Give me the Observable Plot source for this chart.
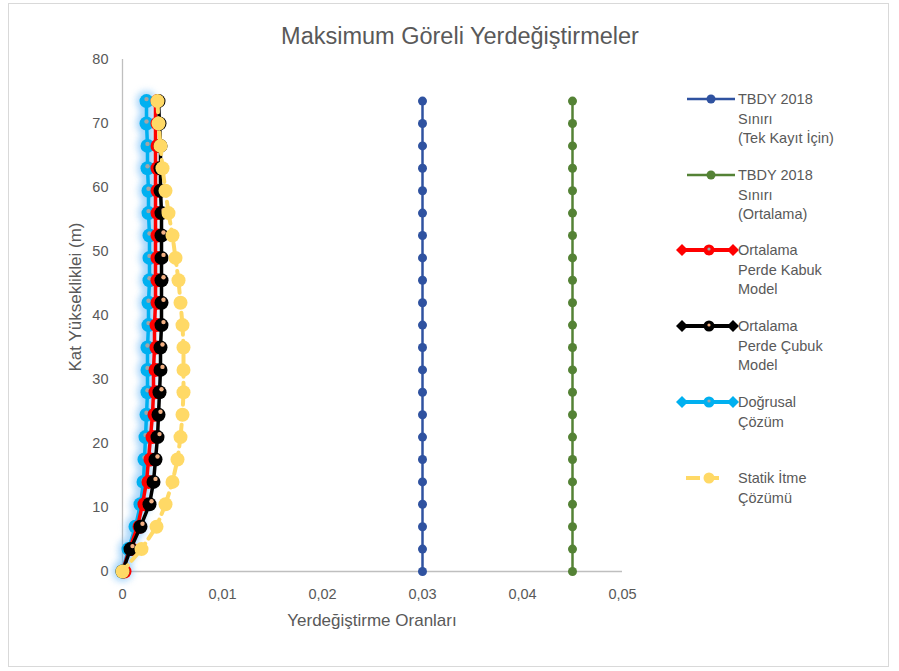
<!DOCTYPE html>
<html>
<head>
<meta charset="utf-8">
<script src="https://cdn.jsdelivr.net/npm/d3@7"></script>
<script src="https://cdn.jsdelivr.net/npm/@observablehq/plot@0.6"></script>
<style>
  html, body { margin: 0; padding: 0; background: #fff; }
  #chart { position: relative; width: 899px; height: 671px; }
</style>
</head>
<body>
<div id="chart"></div>
<script>
// ---- Data ----
const heights = [0, 3.5, 7, 10.5, 14, 17.5, 21, 24.5, 28, 31.5, 35, 38.5, 42, 45.5, 49, 52.5, 56, 59.5, 63, 66.5, 70, 73.5];
const tbdyTekKayit = [0.03, 0.03, 0.03, 0.03, 0.03, 0.03, 0.03, 0.03, 0.03, 0.03, 0.03, 0.03, 0.03, 0.03, 0.03, 0.03, 0.03, 0.03, 0.03, 0.03, 0.03, 0.03];
const tbdyOrtalama = [0.045, 0.045, 0.045, 0.045, 0.045, 0.045, 0.045, 0.045, 0.045, 0.045, 0.045, 0.045, 0.045, 0.045, 0.045, 0.045, 0.045, 0.045, 0.045, 0.045, 0.045, 0.045];
const kabukModel = [0, 0.0007, 0.0015, 0.0020, 0.0024, 0.0026, 0.0028, 0.0030, 0.0031, 0.0031, 0.0032, 0.0032, 0.0033, 0.0033, 0.0033, 0.0033, 0.0033, 0.0033, 0.0033, 0.0033, 0.0033, 0.0033];
const cubukModel = [0, 0.0008, 0.0018, 0.0027, 0.0031, 0.0033, 0.0035, 0.0036, 0.0037, 0.0038, 0.0038, 0.0039, 0.0039, 0.0039, 0.0039, 0.0039, 0.0039, 0.0038, 0.0038, 0.0038, 0.0037, 0.0036];
const dogrusal = [0, 0.0006, 0.0013, 0.0018, 0.0021, 0.0022, 0.0023, 0.0024, 0.0025, 0.0025, 0.0025, 0.0026, 0.0026, 0.0027, 0.0027, 0.0027, 0.0026, 0.0026, 0.0025, 0.0025, 0.0024, 0.0024];
const statikItme = [0, 0.0019, 0.0034, 0.0043, 0.0050, 0.0055, 0.0058, 0.0060, 0.0061, 0.0061, 0.0061, 0.0060, 0.0058, 0.0056, 0.0053, 0.0050, 0.0046, 0.0043, 0.0040, 0.0038, 0.0036, 0.0035];

const xTicks = [0, 0.01, 0.02, 0.03, 0.04, 0.05];
const yTicks = [0, 10, 20, 30, 40, 50, 60, 70, 80];

const seriesNames = ["TBDY 2018\nSınırı\n(Tek Kayıt İçin)", "TBDY 2018\nSınırı\n(Ortalama)", "Ortalama\nPerde Kabuk\nModel", "Ortalama\nPerde Çubuk\nModel", "Doğrusal\nÇözüm", "Statik İtme\nÇözümü"];
const title = "Maksimum Göreli Yerdeğiştirmeler";
const xTitle = "Yerdeğiştirme Oranları";
const yTitle = "Kat Yüksekliklei (m)";

const colors = {tek: "#2f52a0", ort: "#548235", kabuk: "#ff0000", cubuk: "#000000", dog: "#00b0f0", statik: "#ffd966"};

const tbl = arr => heights.map((h, i) => ({h, x: arr[i]}));
const dTek = tbl(tbdyTekKayit), dOrt = tbl(tbdyOrtalama), dKab = tbl(kabukModel),
      dCub = tbl(cubukModel), dDog = tbl(dogrusal), dSta = tbl(statikItme);

const fmt = d => d === 0 ? "0" : d.toFixed(2).replace(".", ",");

const plot = Plot.plot({
  width: 899,
  height: 671,
  marginLeft: 122,
  marginRight: 277,
  marginTop: 59,
  marginBottom: 100,
  style: {fontFamily: "Liberation Sans, Arial, sans-serif", fontSize: "14.5px", color: "#595959", background: "#fff"},
  x: {domain: [0, 0.05], ticks: xTicks, tickFormat: fmt, tickSize: 0, tickPadding: 17, label: null},
  y: {domain: [0, 80], ticks: yTicks, tickSize: 0, tickPadding: 14, label: null},
  marks: [
    Plot.ruleY([0], {stroke: "#bfbfbf", strokeWidth: 1.3}),
    Plot.ruleX([0], {stroke: "#bfbfbf", strokeWidth: 1.3}),
    // TBDY limits
    Plot.line(dTek, {x: "x", y: "h", stroke: colors.tek, strokeWidth: 2.5}),
    Plot.dot(dTek, {x: "x", y: "h", r: 4.5, fill: colors.tek}),
    Plot.line(dOrt, {x: "x", y: "h", stroke: colors.ort, strokeWidth: 2.5}),
    Plot.dot(dOrt, {x: "x", y: "h", r: 4.5, fill: colors.ort}),
    // Dogrusal glow
    Plot.line(dDog, {x: "x", y: "h", stroke: "#5fb4f5", strokeWidth: 14, strokeOpacity: 0.35, imageFilter: "blur(3px)"}),
    Plot.dot(dDog, {x: "x", y: "h", r: 11, fill: "#5fb4f5", fillOpacity: 0.35, imageFilter: "blur(3px)"}),
    Plot.line(dDog, {x: "x", y: "h", stroke: colors.dog, strokeWidth: 3.5}),
    Plot.dot(dDog, {x: "x", y: "h", r: 7, fill: colors.dog}),
    Plot.dot(dDog, {x: "x", y: "h", r: 2.2, fill: "#a5a5a5", dy: -2}),
    // Kabuk
    Plot.line(dKab, {x: "x", y: "h", stroke: colors.kabuk, strokeWidth: 3.5}),
    Plot.dot(dKab, {x: "x", y: "h", r: 7, fill: colors.kabuk, dx: 2}),
    // Cubuk
    Plot.line(dCub, {x: "x", y: "h", stroke: colors.cubuk, strokeWidth: 3.5}),
    Plot.dot(dCub, {x: "x", y: "h", r: 7, fill: colors.cubuk}),
    Plot.dot(dCub, {x: "x", y: "h", r: 2.2, fill: "#f4b183", dx: 2, dy: -3}),
    // Statik
    Plot.line(dSta, {x: "x", y: "h", stroke: colors.statik, strokeWidth: 4, strokeDasharray: "8,6"}),
    Plot.dot(dSta, {x: "x", y: "h", r: 7, fill: colors.statik})
  ]
});

document.getElementById("chart").appendChild(plot);
const svg = d3.select(plot);

// frame
svg.insert("rect", ":first-child").attr("x", 8.5).attr("y", 3.5).attr("width", 880).attr("height", 663)
  .attr("fill", "none").attr("stroke", "#d9d9d9");

// titles
svg.append("text").attr("x", 460).attr("y", 44).attr("text-anchor", "middle")
  .attr("font-size", 23.5).attr("fill", "#595959").text(title);
svg.append("text").attr("x", 372).attr("y", 626).attr("text-anchor", "middle")
  .attr("font-size", 17).attr("fill", "#595959").text(xTitle);
svg.append("text").attr("transform", "translate(81,297) rotate(-90)").attr("text-anchor", "middle")
  .attr("font-size", 17).attr("fill", "#595959").text(yTitle);

// legend
const legY = [99, 175, 250, 326, 402, 478];
const legKinds = [
  {c: colors.tek, kind: "dot"},
  {c: colors.ort, kind: "dot"},
  {c: colors.kabuk, kind: "dia"},
  {c: colors.cubuk, kind: "dia"},
  {c: colors.dog, kind: "dia"},
  {c: colors.statik, kind: "dash"}
];
const lg = svg.append("g").attr("text-anchor", "start");
seriesNames.forEach((name, i) => {
  const y = legY[i], k = legKinds[i];
  if (k.kind === "dot") {
    lg.append("line").attr("x1", 687).attr("x2", 735).attr("y1", y).attr("y2", y).attr("stroke", k.c).attr("stroke-width", 2.5);
    lg.append("circle").attr("cx", 711).attr("cy", y).attr("r", 4.5).attr("fill", k.c);
  } else if (k.kind === "dia") {
    lg.append("line").attr("x1", 684).attr("x2", 734).attr("y1", y).attr("y2", y).attr("stroke", k.c).attr("stroke-width", 4);
    [682, 733].forEach(cx => lg.append("path").attr("d", `M${cx - 6},${y} L${cx},${y - 6} L${cx + 6},${y} L${cx},${y + 6} Z`).attr("fill", k.c));
    lg.append("circle").attr("cx", 709).attr("cy", y).attr("r", 5.5).attr("fill", k.c);
    lg.append("circle").attr("cx", 709).attr("cy", y - 1).attr("r", 1.6).attr("fill", i === 3 ? "#f4b183" : "#a5a5a5");
  } else {
    lg.append("line").attr("x1", 686).attr("x2", 700).attr("y1", y).attr("y2", y).attr("stroke", k.c).attr("stroke-width", 4);
    lg.append("circle").attr("cx", 709).attr("cy", y).attr("r", 5.5).attr("fill", k.c);
    lg.append("line").attr("x1", 714).attr("x2", 719).attr("y1", y).attr("y2", y).attr("stroke", k.c).attr("stroke-width", 4);
  }
  const t = lg.append("text").attr("x", 738).attr("y", y + 5).attr("text-anchor", "start")
    .attr("font-size", 14.5).attr("fill", "#595959");
  name.split("\n").forEach((line, j) => {
    t.append("tspan").attr("x", 738).attr("dy", j === 0 ? 0 : 19.7).text(line);
  });
});
</script>
</body>
</html>
